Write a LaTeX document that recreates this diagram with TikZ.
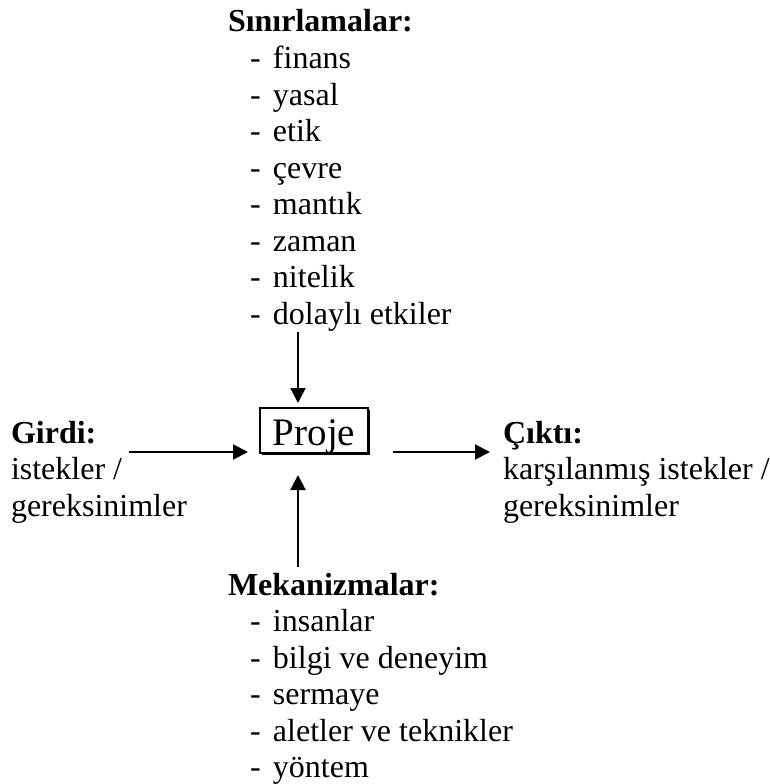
\documentclass[tikz,border=0pt]{standalone}
\usepackage{fontspec}
\setmainfont{Liberation Serif}
\usetikzlibrary{arrows.meta,shadows}
\begin{document}
\begin{tikzpicture}[x=1pt,y=1pt,
  txt/.style={anchor=base west,inner sep=0pt,outer sep=0pt,font=\fontsize{32}{36.5}\selectfont},
  arr/.style={line width=2pt,-{Triangle[length=15pt,width=15pt]}},
  projebox/.style={draw,line width=2pt,fill=white,minimum width=108pt,minimum height=45pt,inner sep=0pt,
    text height=29pt,text depth=0pt,font=\fontsize{39}{41}\selectfont,
    drop shadow={shadow xshift=1.6pt,shadow yshift=-1.6pt,fill=black,opacity=1}}]
\useasboundingbox (0,0) rectangle (770,-784);
\newcommand{\dashitem}[1]{\makebox[23pt][l]{-}#1}
% Proje
\node[projebox] (proje) at (314,-430.5) {Proje};
% Sinirlamalar
\node[txt] (s0) at (228,-32) {\textbf{Sınırlamalar:}};
\foreach \t [count=\i] in {finans,yasal,etik,çevre,mantık,zaman,nitelik,dolaylı etkiler}{
  \node[txt] (s\i) at (250,-32-36.5*\i) {\dashitem{\t}};
}
% Mekanizmalar
\node[txt] (m0) at (228,-595) {\textbf{Mekanizmalar:}};
\foreach \t [count=\i] in {insanlar,bilgi ve deneyim,sermaye,aletler ve teknikler,yöntem}{
  \node[txt] (m\i) at (250,-595-36.5*\i) {\dashitem{\t}};
}
% Girdi
\node[txt] (g0) at (11,-443) {\textbf{Girdi:}};
\node[txt] (g1) at (11,-479.5) {istekler /};
\node[txt] (g2) at (11,-516) {gereksinimler};
% Cikti
\node[txt] (c0) at (503,-443) {\textbf{Çıktı:}};
\node[txt] (c1) at (503,-479.5) {karşılanmış istekler /};
\node[txt] (c2) at (503,-516) {gereksinimler};
% connectors
\coordinate (tTop) at (298,-332);
\coordinate (bBot) at (298,-567);
\coordinate (lStart) at (129,-452);
\coordinate (rEnd) at (490,-452);
\draw[arr,shorten >=4pt] (tTop) -- (proje.north -| tTop);
\draw[arr,shorten >=21pt] (bBot) -- (proje.south -| bBot);
\draw[arr,shorten >=11pt] (lStart) -- (proje.west |- lStart);
\draw[arr,shorten <=24pt] (proje.east |- rEnd) -- (rEnd);
\end{tikzpicture}
\end{document}
